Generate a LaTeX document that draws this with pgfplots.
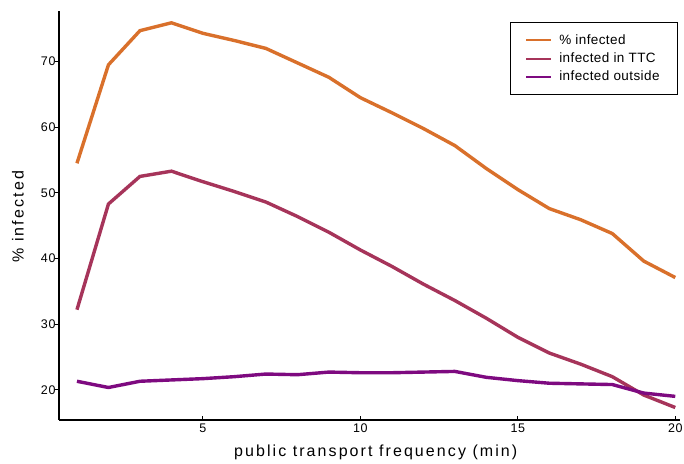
\documentclass[border=0pt]{standalone}
\usepackage{pgfplots}
\pgfplotsset{compat=1.18}
\usepackage{fontspec}
\setmainfont{Liberation Sans}
\newfontfamily\labelfont[LetterSpace=13]{Liberation Sans}
\newfontfamily\legfont[LetterSpace=3]{Liberation Sans}
\newfontfamily\tickfont[LetterSpace=5]{Liberation Sans}
\definecolor{corange}{RGB}{217,112,43}
\definecolor{cred}{RGB}{166,52,90}
\definecolor{cpurple}{RGB}{126,10,128}
\begin{document}
\begin{tikzpicture}
\begin{axis}[
  name=ax,
  scale only axis, width=621bp, height=409bp,
  xmin=0.43, xmax=20.15, ymin=15.4, ymax=77.7,
  axis x line*=bottom, axis y line*=left,
  axis line style={line width=1.5bp, black},
  xtick={5,10,15,20}, ytick={20,30,40,50,60,70},
  tick align=inside,
  major tick length=4bp,
  tick style={black, line width=1bp},
  ytick style={xshift=-4bp},
  /pgf/number format/assume math mode=true,
  tick label style={font=\tickfont\fontsize{12.5bp}{15bp}\selectfont},
  xlabel={public transport frequency (min)},
  ylabel={\% infected},
  label style={font=\labelfont\fontsize{16bp}{19bp}\selectfont},
  x label style={at={(axis description cs:0.51,-0.078)}, anchor=center},
  y label style={at={(axis description cs:-0.066,0.497)}, anchor=center, rotate=0},
  legend style={at={(rel axis cs:0.997,0.973)}, anchor=north east, draw=black, line width=1.2bp,
    font=\legfont\fontsize{13.5bp}{16bp}\selectfont, row sep=3bp, inner xsep=16bp, inner ysep=10bp,
    cells={anchor=west},
    /tikz/every odd column/.append style={column sep=6bp}},
  legend image code/.code={\path[#1, draw=none, fill] (0bp,-1bp) rectangle (25bp,1bp);},
]
\addplot[color=corange, line width=3.4bp] table {
x y
1 54.5
2 69.5
3 74.7
4 75.9
5 74.3
6 73.2
7 72.0
8 69.8
9 67.6
10 64.5
11 62.2
12 59.8
13 57.2
14 53.7
15 50.5
16 47.6
17 45.9
18 43.8
19 39.6
20 37.1
};
\addlegendentry{\% infected}
\addplot[color=cred, line width=3.4bp] table {
x y
1 32.2
2 48.3
3 52.5
4 53.3
5 51.7
6 50.2
7 48.6
8 46.4
9 44.0
10 41.3
11 38.8
12 36.1
13 33.6
14 30.9
15 28.0
16 25.6
17 23.9
18 22.0
19 19.2
20 17.3
};
\addlegendentry{infected in TTC}
\addplot[color=cpurple, line width=3.4bp] table {
x y
1 21.3
2 20.35
3 21.3
4 21.5
5 21.7
6 22.0
7 22.4
8 22.3
9 22.7
10 22.6
11 22.6
12 22.7
13 22.8
14 21.9
15 21.4
16 21.0
17 20.9
18 20.8
19 19.5
20 19.0
};
\addlegendentry{infected outside}
\end{axis}
\pgfresetboundingbox
\path ([shift={(-59bp,-44bp)}]ax.south west) rectangle ([shift={(4bp,11bp)}]ax.north east);
\end{tikzpicture}
\end{document}
